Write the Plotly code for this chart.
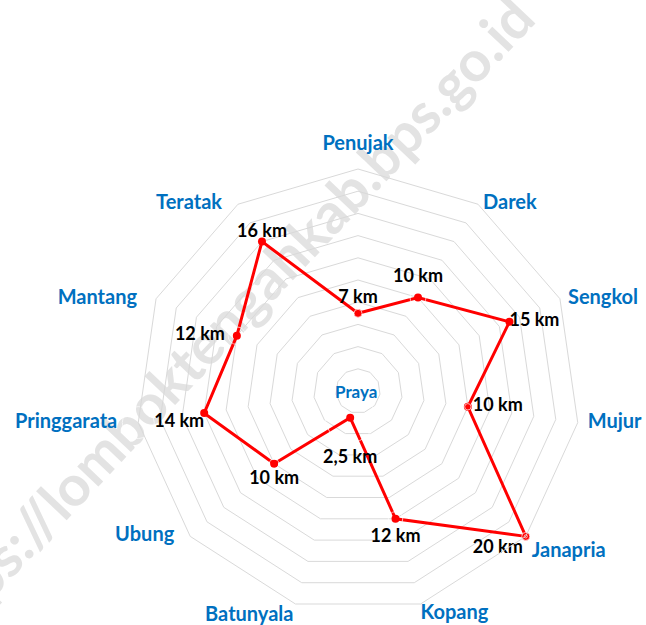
import plotly.graph_objects as go

categories = ["Penujak", "Darek", "Sengkol", "Mujur", "Janapria", "Kopang",
              "Batunyala", "Ubung", "Pringgarata", "Mantang", "Teratak"]
distances_km = [7, 10, 15, 10, 20, 12, 2.5, 10, 14, 12, 16]
center_label = "Praya"
watermark = "https://lomboktengahkab.bps.go.id"
radial_ticks = [0, 2, 4, 6, 8, 10, 12, 14, 16, 18, 20]

# ---- label placement (style only) ----
data_label_pos = ["top center", "top center", "middle right", "middle right", "bottom left",
                  "bottom center", "bottom center", "bottom center", "bottom left", "middle left",
                  "top center"]
data_label_gap = [6, 11, 0, 5, 3, 10, 32, 7, 0, 12, 0]          # px between point and text
cat_label_pos = ["top center", "middle right", "middle right", "middle right", "bottom right",
                 "bottom right", "bottom left", "middle left", "middle left", "middle left",
                 "middle left"]
cat_label_gap = [14, 5, 8, 10, 6, 0, 2, 16, 21, 19, 16]


def gap_to_marker_size(g):
    # plotly offsets text by markerRadius/0.8 + 1
    return max(0.0, 1.6 * (g - 1))


label_text = [f"{v:g}".replace(".", ",") + " km" for v in distances_km]

BLUE = "#0070C0"
FONT = "Lato"
R_MAX = radial_ticks[-1]

fig = go.Figure()
fig.add_trace(go.Scatterpolar(
    r=distances_km + [distances_km[0]],
    theta=categories + [categories[0]],
    mode="lines+markers",
    line=dict(color="#FF0000", width=3),
    marker=dict(color="#FF0000", size=8),
    hoverinfo="skip",
    showlegend=False,
))
fig.add_trace(go.Scatterpolar(
    r=distances_km,
    theta=categories,
    mode="markers+text",
    marker=dict(size=[gap_to_marker_size(g) for g in data_label_gap], color="rgba(0,0,0,0)"),
    text=label_text,
    textposition=data_label_pos,
    textfont=dict(family=FONT, size=18, color="black", weight="bold"),
    cliponaxis=False,
    hoverinfo="skip",
    showlegend=False,
))
# category names around the outer ring
fig.add_trace(go.Scatterpolar(
    r=[R_MAX] * len(categories),
    theta=categories,
    mode="markers+text",
    marker=dict(size=[gap_to_marker_size(g) for g in cat_label_gap], color="rgba(0,0,0,0)"),
    text=categories,
    textposition=cat_label_pos,
    textfont=dict(family=FONT, size=20, color=BLUE, weight="bold"),
    cliponaxis=False,
    hoverinfo="skip",
    showlegend=False,
))

W, H = 646, 625
cx, cy, R = 358, 391, 222
fig.update_layout(
    width=W, height=H,
    margin=dict(l=0, r=0, t=0, b=0),
    paper_bgcolor="white",
    polar=dict(
        domain=dict(x=[(cx - R) / W, (cx + R) / W], y=[1 - (cy + R) / H, 1 - (cy - R) / H]),
        bgcolor="rgba(0,0,0,0)",
        gridshape="linear",
        radialaxis=dict(range=[0, R_MAX], tickvals=radial_ticks, showticklabels=False,
                        ticks="", showline=False, gridcolor="#D9D9D9", gridwidth=1),
        angularaxis=dict(direction="clockwise", rotation=90, showgrid=False,
                         showline=True, linecolor="#D9D9D9", linewidth=1,
                         ticks="", showticklabels=False),
    ),
    annotations=[dict(
        text=center_label, xref="paper", yref="paper", x=(cx - 2) / W, y=1 - cy / H,
        showarrow=False, xanchor="center", yanchor="middle",
        font=dict(family=FONT, size=17, color=BLUE, weight="bold"),
    )],
    shapes=[dict(
        type="line", xref="paper", yref="paper", layer="below",
        x0=-51 / W, y0=1 - 666 / H, x1=549 / W, y1=1 - 30 / H,
        line=dict(color="rgba(0,0,0,0)", width=0),
        label=dict(text=watermark, textposition="middle",
                   font=dict(family=FONT, size=56.5, color="#E3E3E3", weight="bold")),
    )],
)
fig.write_html("out.html", config={"displayModeBar": False},
               post_script="document.body.style.margin='0px';")
